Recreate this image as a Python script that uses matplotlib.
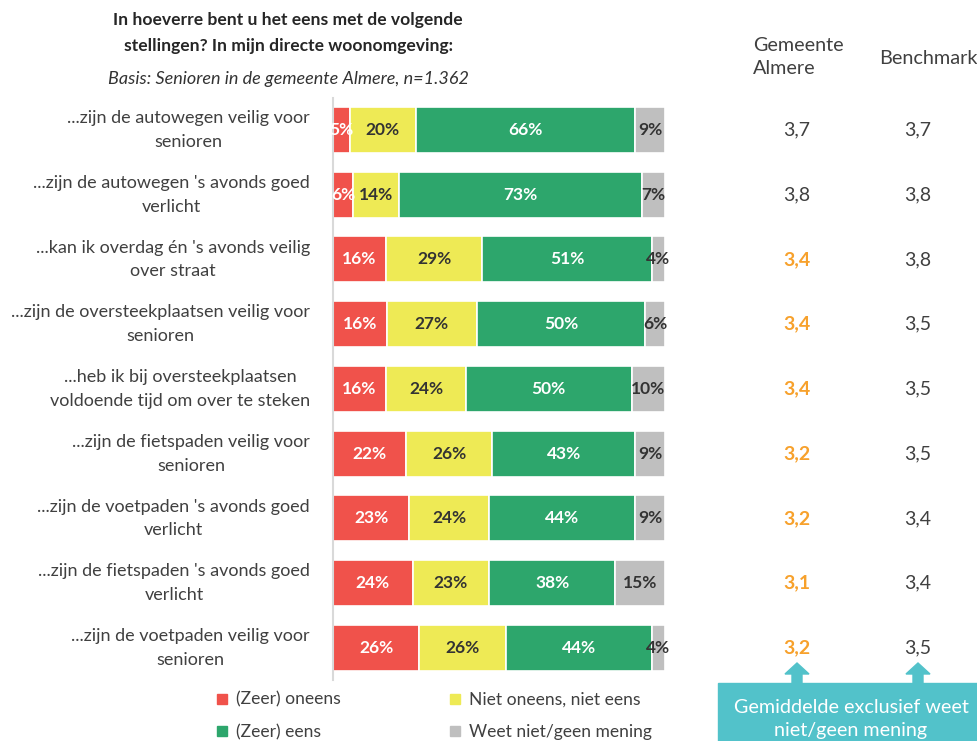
#!/usr/bin/env python3
# -*- coding: utf-8 -*-

"""
Stacked bar chart of how seniors in Almere rate traffic safety in their
direct neighbourhood, with the mean score next to the benchmark.
"""

import numpy as np
from matplotlib import pyplot as plt
from matplotlib.lines import Line2D
from matplotlib.patches import FancyArrow, Rectangle

plt.rcParams["font.family"] = ["Lato", "DejaVu Sans"]

statements = [
    "...zijn de autowegen veilig voor\nsenioren",
    "...zijn de autowegen 's avonds goed\nverlicht",
    "...kan ik overdag én 's avonds veilig\nover straat",
    "...zijn de oversteekplaatsen veilig voor\nsenioren",
    "...heb ik bij oversteekplaatsen\nvoldoende tijd om over te steken",
    "...zijn de fietspaden veilig voor\nsenioren",
    "...zijn de voetpaden 's avonds goed\nverlicht",
    "...zijn de fietspaden 's avonds goed\nverlicht",
    "...zijn de voetpaden veilig voor\nsenioren",
]

oneens = [5, 6, 16, 16, 16, 22, 23, 24, 26]
neutraal = [20, 14, 29, 27, 24, 26, 24, 23, 26]
eens = [66, 73, 51, 50, 50, 43, 44, 38, 44]
weet_niet = [9, 7, 4, 6, 10, 9, 9, 15, 4]

series_names = ["(Zeer) oneens", "Niet oneens, niet eens", "(Zeer) eens", "Weet niet/geen mening"]

gemeente = [3.7, 3.8, 3.4, 3.4, 3.4, 3.2, 3.2, 3.1, 3.2]
benchmark = [3.7, 3.8, 3.8, 3.5, 3.5, 3.5, 3.4, 3.4, 3.5]

RED = "#F0524B"
YELLOW = "#EEEA55"
GREEN = "#2DA66C"
GREY = "#BFBFBF"
ORANGE = "#F7A12C"
DARK = "#404040"
TEAL = "#52C2CA"

W, H = 978, 741


def create_plot():
    fig = plt.figure(figsize=(W / 100, H / 100), dpi=100)

    # axes placed in pixel coordinates of the original figure
    top, row_h = 97.6, 64.75
    ax = fig.add_axes([333 / W, 1 - (top + 9 * row_h) / H, 332 / W, 9 * row_h / H])

    data = np.array([oneens, neutraal, eens, weet_niet], dtype=float)
    shares = data / data.sum(axis=0) * 100
    colours = [RED, YELLOW, GREEN, GREY]
    text_colours = ["white", "#333333", "white", "#333333"]

    y = np.arange(len(statements))
    left = np.zeros(len(statements))
    for i in range(4):
        ax.barh(y, shares[i], left=left, height=0.71, color=colours[i],
                edgecolor="white", linewidth=1.2)
        for j in range(len(statements)):
            ax.text(left[j] + shares[i][j] / 2, y[j], "{:.0f}%".format(data[i][j]),
                    ha="center", va="center", fontsize=12.5, fontweight="bold",
                    color=text_colours[i])
        left += shares[i]

    ax.set_xlim(0, 100)
    ax.set_ylim(len(statements) - 0.5, -0.5)
    ax.set_xticks([])
    ax.set_yticks([])
    for s in ["top", "right", "bottom"]:
        ax.spines[s].set_visible(False)
    ax.spines["left"].set_color("#D9D9D9")
    ax.spines["left"].set_linewidth(1.5)

    # statement labels and mean scores
    for j, s in enumerate(statements):
        yc = 1 - (top + (j + 0.5) * row_h) / H
        fig.text(310 / W, yc, s, ha="right", va="center", multialignment="center",
                 fontsize=13, color=DARK, linespacing=1.6)
        low = gemeente[j] < benchmark[j]
        fig.text(797 / W, yc, "{:.1f}".format(gemeente[j]).replace(".", ","),
                 ha="center", va="center", fontsize=14,
                 fontweight="bold" if low else "normal",
                 color=ORANGE if low else DARK)
        fig.text(918 / W, yc, "{:.1f}".format(benchmark[j]).replace(".", ","),
                 ha="center", va="center", fontsize=14, color=DARK)

    # title
    fig.text(288 / W, 1 - 20 / H, "In hoeverre bent u het eens met de volgende",
             ha="center", va="center", fontsize=12.6, fontweight="bold", color="#262626")
    fig.text(288 / W, 1 - 46 / H, "stellingen? In mijn directe woonomgeving:",
             ha="center", va="center", fontsize=12.6, fontweight="bold", color="#262626")
    fig.text(288 / W, 1 - 79 / H, "Basis: Senioren in de gemeente Almere, n=1.362",
             ha="center", va="center", fontsize=13, style="italic", color="#333333")

    # column headers
    fig.text(753 / W, 1 - 57 / H, "Gemeente\nAlmere", ha="left", va="center",
             fontsize=14.2, color=DARK, linespacing=1.4)
    fig.text(879 / W, 1 - 58 / H, "Benchmark", ha="left", va="center",
             fontsize=14.3, color=DARK)

    # legend
    handles = [Line2D([], [], marker="s", ls="", color=c, markersize=7.5) for c in colours]
    order = [0, 2, 1, 3]
    fig.legend([handles[i] for i in order], [series_names[i] for i in order],
               ncol=2, loc="center", bbox_to_anchor=(434 / W, 1 - 716 / H),
               frameon=False, fontsize=12.6, handlelength=0.7, handletextpad=0.45,
               columnspacing=6.2, labelspacing=0.95, labelcolor=DARK,
               borderpad=0.2)

    # callout box with arrows
    fig.patches.append(Rectangle((718 / W, 0), (W - 718) / W, 58 / H,
                                 transform=fig.transFigure, color=TEAL, zorder=1))
    for xa in [797, 918]:
        fig.patches.append(FancyArrow(xa / W, 58 / H, 0, 20 / H, width=10 / W,
                                      head_width=24 / W, head_length=11 / H,
                                      length_includes_head=True,
                                      transform=fig.transFigure, color=TEAL, zorder=1))
    fig.text(851 / W, 1 - 719 / H, "Gemiddelde exclusief weet\nniet/geen mening",
             ha="center", va="center", fontsize=14.2, color="white", linespacing=1.45)

    fig.savefig("out.png", dpi=100)
    plt.close()


def main():
    create_plot()


if __name__ == "__main__":
    main()
